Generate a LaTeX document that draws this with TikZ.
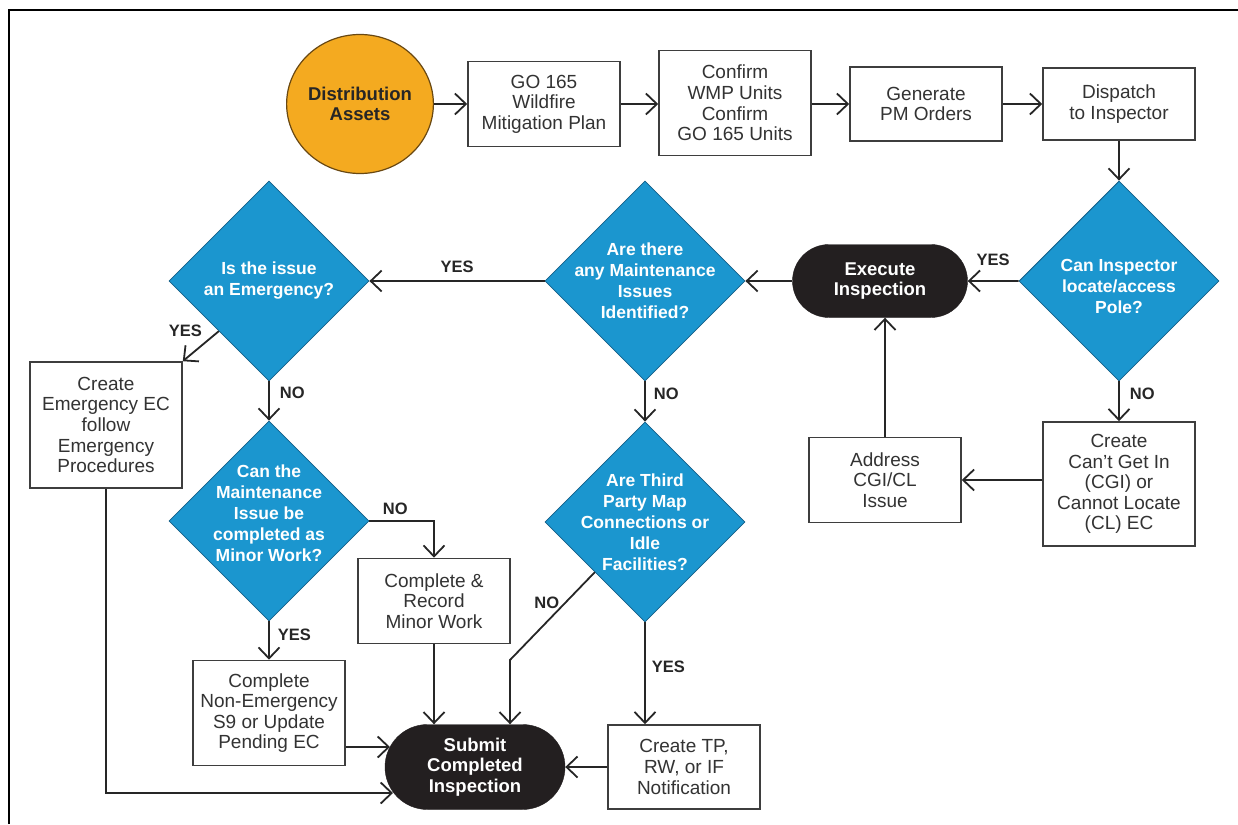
\documentclass[tikz,border=0pt]{standalone}
\usepackage{fontspec}
\setmainfont{Liberation Sans}
\usepackage{tikz}
\usetikzlibrary{arrows.meta,shapes.geometric,shapes.misc}

\definecolor{qblue}{RGB}{27,150,207}
\definecolor{qedge}{RGB}{20,95,135}
\definecolor{assetfill}{RGB}{244,170,32}
\definecolor{assetedge}{RGB}{105,72,18}
\definecolor{termfill}{RGB}{35,31,32}
\definecolor{boxedge}{RGB}{62,62,62}

\begin{document}
\begin{tikzpicture}[x=1pt,y=-1pt,
  stepbox/.style={rectangle,draw=boxedge,line width=1.6pt,fill=white,align=center,
    minimum width=152pt,inner sep=2pt,text=black!80,font=\fontsize{19}{20.6}\selectfont},
  decision/.style={diamond,draw=qedge,line width=0.8pt,fill=qblue,
    minimum width=200pt,minimum height=200pt,inner sep=0pt},
  qtext/.style={align=center,text=white,font=\bfseries\fontsize{17.5}{21}\selectfont},
  terminal/.style={rounded rectangle,fill=termfill,draw=termfill,text=white,align=center,
    inner xsep=0pt,font=\bfseries\fontsize{18.5}{20.5}\selectfont},
  arr/.style={draw=black!85,line width=1.8pt,-{Straight Barb[length=11pt,width=21pt]}},
  yn/.style={inner sep=2pt,text=black!85,font=\bfseries\fontsize{16.5}{18}\selectfont}]

\useasboundingbox (0,0) rectangle (1238,824);

% frame
\draw[line width=2.4pt] (9,824) -- (9,10) -- (1238,10);

% top row
\node[ellipse,draw=assetedge,line width=1.2pt,fill=assetfill,minimum width=134pt,
  minimum height=139pt,inner sep=0pt,align=center,text=black!85,
  font=\bfseries\fontsize{18.5}{20}\selectfont] (assets) at (360,104) {Distribution\\Assets};
\node[stepbox,minimum height=85pt] (plan) at (544,104) {GO 165\\Wildfire\\Mitigation Plan};
\node[stepbox,minimum height=105pt] (units) at (735,103) {Confirm\\WMP Units\\Confirm\\GO 165 Units};
\node[stepbox,minimum height=74pt] (orders) at (926,104) {Generate\\PM Orders};
\node[stepbox,minimum height=72pt] (dispatch) at (1119,104) {Dispatch\\to Inspector};

% middle row
\node[decision] (qpole) at (1119,281) {};
\node[qtext,yshift=-5pt] (tpole) at (qpole) {Can Inspector\\locate/access\\Pole?};
\node[terminal,minimum width=175pt,minimum height=73pt] (exec) at (880,281) {Execute\\Inspection};
\node[decision] (qmaint) at (645,281) {};
\node[qtext] (tmaint) at (qmaint) {Are there\\any Maintenance\\Issues\\Identified?};
\node[decision] (qemerg) at (269,281) {};
\node[qtext] (temerg) at (qemerg) {Is the issue\\an Emergency?};

% lower part
\node[stepbox,minimum height=126pt] (emerg) at (106,425) {Create\\Emergency EC\\follow\\Emergency\\Procedures};
\node[decision] (qminor) at (269,521) {};
\node[qtext,yshift=8pt] (tminor) at (qminor) {Can the\\Maintenance\\Issue be\\completed as\\Minor Work?};
\node[stepbox,minimum height=85pt] (minor) at (434,601) {Complete \&\\Record\\Minor Work};
\node[decision] (qthird) at (645,522) {};
\node[qtext] (tthird) at (qthird) {Are Third\\Party Map\\Connections or\\Idle\\Facilities?};
\node[stepbox,minimum height=85pt] (address) at (885,480) {Address\\CGI/CL\\Issue};
\node[stepbox,minimum height=124pt] (cgi) at (1119,484) {Create\\Can’t Get In\\(CGI) or\\Cannot Locate\\(CL) EC};
\node[stepbox,minimum height=105pt] (nonem) at (269,713) {Complete\\Non-Emergency\\S9 or Update\\Pending EC};
\node[terminal,minimum width=180pt,minimum height=85pt] (submit) at (475,767) {Submit\\Completed\\Inspection};
\node[stepbox,minimum height=84pt] (notify) at (684,767) {Create TP,\\RW, or IF\\Notification};

% free ends
\coordinate (bend) at (510,660);
\coordinate (sa) at (390,747);
\coordinate (sb) at (393,793);

% connectors
\draw[arr] (assets) -- (plan);
\draw[arr] (plan) -- (plan -| units.west);
\draw[arr] (units.east |- orders) -- (orders);
\draw[arr] (orders) -- (dispatch);
\draw[arr] (dispatch) -- (qpole);
\draw[arr] (qpole) -- node[yn,above=12pt] (yes1) {YES} (exec);
\draw[arr] (exec) -- (qmaint);
\draw[arr] (qmaint) -- node[yn,above=5pt] (yes2) {YES} (qemerg);
\draw[arr] (qemerg.south west) -- node[yn,pos=0,left=14pt] (yes3) {YES} (emerg.north east);
\draw[arr] (qemerg) -- node[yn,pos=0.3,right=8pt] (no1) {NO} (qminor);
\draw[arr] (qmaint) -- node[yn,pos=0.3,right=6pt] (no2) {NO} (qthird);
\draw[arr] (qpole) -- node[yn,pos=0.3,right=8pt] (no3) {NO} (cgi);
\draw[arr] (cgi.west |- address.east) -- (address.east);
\draw[arr] (address.north) -- (address.north |- exec.south);
\draw[arr] (qminor.east) -| node[yn,pos=0.2,above=3pt] (no4) {NO} (minor.north);
\draw[arr] (qminor) -- node[yn,pos=0.34,right=6pt] (yes4) {YES} (nonem);
\draw[arr] (minor.south) -- (minor.south |- submit.north);
\draw[arr] (qthird.south west) -- node[yn,pos=0.35,left=3pt] (no5) {NO} (bend) -- (bend |- submit.north);
\draw[arr] (qthird.south) -- node[yn,pos=0.44,right=4pt] (yes5) {YES} (qthird.south |- notify.north);
\draw[arr] (notify) -- (submit);
\draw[arr] (nonem.east |- sa) -- (sa);
\draw[arr] (emerg.south) |- (sb);

\end{tikzpicture}
\end{document}
